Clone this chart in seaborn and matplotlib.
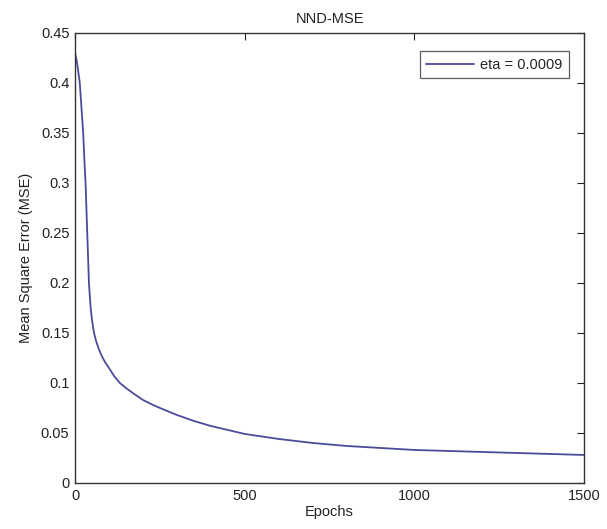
import pandas as pd
import matplotlib
matplotlib.use("Agg")
import matplotlib.pyplot as plt
import seaborn as sns

# values
epochs = [0, 5, 10, 14, 20, 24, 28, 31, 36, 41, 46, 50, 56, 62, 70, 80, 90, 100, 115,
          132, 150, 170, 200, 230, 250, 300, 350, 400, 450, 500, 600, 700, 800, 900,
          1000, 1100, 1200, 1300, 1400, 1500]
mse = [0.430, 0.422, 0.410, 0.400, 0.370, 0.350, 0.320, 0.300, 0.250, 0.200, 0.175,
       0.163, 0.150, 0.142, 0.134, 0.126, 0.120, 0.115, 0.107, 0.100, 0.095, 0.090,
       0.083, 0.078, 0.075, 0.068, 0.062, 0.057, 0.053, 0.049, 0.044, 0.040, 0.037,
       0.035, 0.033, 0.032, 0.031, 0.030, 0.029, 0.028]
series_label = "eta = 0.0009"
x_ticks = [0, 500, 1000, 1500]
y_ticks = [0, 0.05, 0.1, 0.15, 0.2, 0.25, 0.3, 0.35, 0.4, 0.45]

df = pd.DataFrame({"Epochs": epochs, "MSE": mse, "run": series_label})

sns.set_style("white")
plt.rcParams["font.family"] = ["Liberation Sans", "DejaVu Sans"]
plt.rcParams["font.size"] = 10.5

fig = plt.figure(figsize=(6.07, 5.29), dpi=100)
ax = fig.add_axes([0.1236, 0.087, 0.8386, 0.851])

sns.lineplot(data=df, x="Epochs", y="MSE", hue="run", palette=["#4b4b9c"],
             linewidth=1.3, ax=ax)

ax.set_xlim(0, 1500)
ax.set_ylim(0, 0.45)
ax.set_xticks(x_ticks)
ax.set_xticklabels([str(t) for t in x_ticks])
ax.set_yticks(y_ticks)
ax.set_yticklabels(["0", "0.05", "0.1", "0.15", "0.2", "0.25", "0.3", "0.35", "0.4", "0.45"])
ax.tick_params(direction="in", length=5, width=0.8, top=True, right=True,
               labelsize=10.5, colors="#222222", pad=4)
for s in ax.spines.values():
    s.set_color("#333333")
    s.set_linewidth(1.0)

ax.set_title("NND-MSE", fontsize=10.5, color="#222222", pad=7)
ax.set_xlabel("Epochs", fontsize=10.5, color="#222222", labelpad=2)
ax.set_ylabel("Mean Square Error (MSE)", fontsize=10.5, color="#222222", labelpad=6)

leg = ax.legend(loc="upper right", frameon=True, fancybox=False, handlelength=3.3,
                borderpad=0.45, handletextpad=0.4, fontsize=10.5,
                bbox_to_anchor=(0.985, 0.975))
leg.get_frame().set_edgecolor("#333333")
leg.get_frame().set_linewidth(0.9)

fig.savefig("out.png", dpi=100, facecolor="white")
